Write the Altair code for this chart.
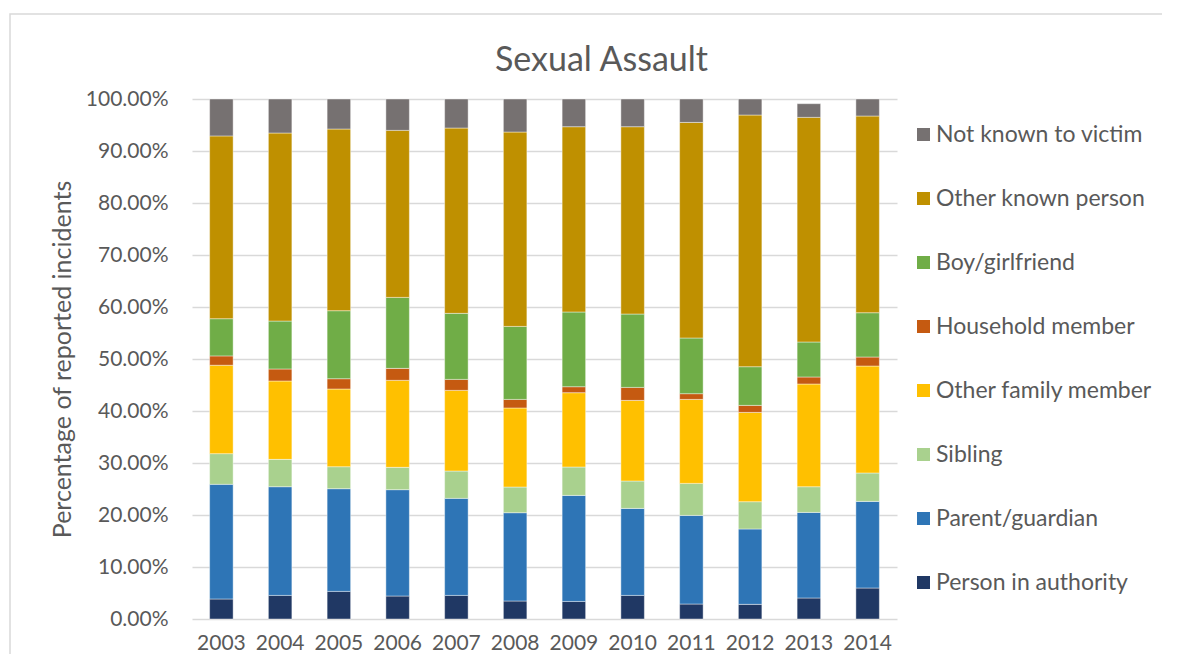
import altair as alt
import pandas as pd

years = ["2003", "2004", "2005", "2006", "2007", "2008", "2009", "2010", "2011", "2012", "2013", "2014"]

categories = [
    "Not known to victim", "Other known person", "Boy/girlfriend", "Household member",
    "Other family member", "Sibling", "Parent/guardian", "Person in authority",
]
colors = ["#767171", "#BF9000", "#70AD47", "#C55A11", "#FFC000", "#A9D18E", "#2E75B6", "#203864"]

person_in_authority = [3.85, 4.54, 5.31, 4.42, 4.54, 3.46, 3.38, 4.54, 2.88, 2.82, 4.04, 5.96]
parent_guardian     = [22.05, 20.90, 19.75, 20.45, 18.66, 16.98, 20.39, 16.73, 17.04, 14.49, 16.46, 16.66]
sibling             = [5.90, 5.26, 4.23, 4.30, 5.26, 4.94, 5.46, 5.27, 6.16, 5.25, 4.94, 5.46]
other_family        = [17.00, 15.07, 14.94, 16.73, 15.51, 15.20, 14.29, 15.50, 16.15, 17.17, 19.75, 20.57]
household_member    = [1.80, 2.31, 1.98, 2.30, 2.11, 1.65, 1.15, 2.50, 1.10, 1.35, 1.35, 1.73]
boy_girlfriend      = [7.15, 9.22, 13.08, 13.65, 12.70, 14.04, 14.37, 14.11, 10.71, 7.44, 6.73, 8.52]
other_known         = [35.15, 36.16, 34.94, 32.12, 35.64, 37.38, 35.63, 36.02, 41.46, 48.40, 43.20, 37.83]
not_known           = [7.10, 6.54, 5.77, 6.03, 5.58, 6.35, 5.33, 5.33, 4.50, 3.08, 2.63, 3.27]

series = {
    "Person in authority": person_in_authority,
    "Parent/guardian": parent_guardian,
    "Sibling": sibling,
    "Other family member": other_family,
    "Household member": household_member,
    "Boy/girlfriend": boy_girlfriend,
    "Other known person": other_known,
    "Not known to victim": not_known,
}

rows = []
for order, (name, vals) in enumerate(series.items()):
    for yr, v in zip(years, vals):
        rows.append({"Year": yr, "Relationship": name, "Value": v, "ord": order})
df = pd.DataFrame(rows)

FONT = "Lato"
GREY = "#595959"

bars = alt.Chart(df).mark_bar(stroke="white", strokeWidth=0.6, strokeOpacity=0.7).encode(
    x=alt.X("Year:N", sort=years, title=None,
            scale=alt.Scale(paddingInner=0.6, paddingOuter=0.3),
            axis=alt.Axis(labelAngle=0, labelFontSize=21, labelColor=GREY, labelFont=FONT,
                          ticks=False, domain=False, labelPadding=13)),
    y=alt.Y("Value:Q", stack="zero", title="Percentage of reported incidents",
            scale=alt.Scale(domain=[0, 100], nice=False),
            axis=alt.Axis(values=list(range(0, 101, 10)),
                          labelExpr="format(datum.value, '.2f') + '%'",
                          labelFontSize=21, labelColor=GREY, labelFont=FONT,
                          titleFontSize=25, titleColor=GREY, titleFont=FONT, titleFontWeight="normal",
                          titlePadding=10, ticks=False, domain=False, labelPadding=24,
                          gridColor="#d9d9d9", gridWidth=1.5)),
    color=alt.Color("Relationship:N",
                    scale=alt.Scale(domain=categories, range=colors),
                    legend=alt.Legend(title=None, orient="none", legendX=720, legendY=24,
                                      symbolType="square", symbolSize=169, symbolStrokeWidth=0,
                                      labelFontSize=23, labelColor=GREY, labelFont=FONT,
                                      labelLimit=400, rowPadding=40, labelOffset=1)),
    order=alt.Order("ord:Q", sort="ascending"),
)

border = alt.Chart(pd.DataFrame({"a": [0]})).mark_rect(
    filled=False, stroke="#d9d9d9", strokeWidth=1.5
).encode(
    x=alt.value(-182), x2=alt.value(1200), y=alt.value(-85), y2=alt.value(800)
)

chart = alt.layer(border, bars).properties(
    width=705, height=520,
    title=alt.TitleParams("Sexual Assault", fontSize=34, font=FONT, color=GREY,
                          fontWeight="normal", anchor="middle", dx=57, dy=92, offset=27),
    autosize=alt.AutoSizeParams(type="none"),
    padding={"left": 184, "top": 91, "right": 265, "bottom": 35},
).configure_view(stroke=None)

chart.save("out.html", embed_options={"renderer": "svg", "actions": False})
